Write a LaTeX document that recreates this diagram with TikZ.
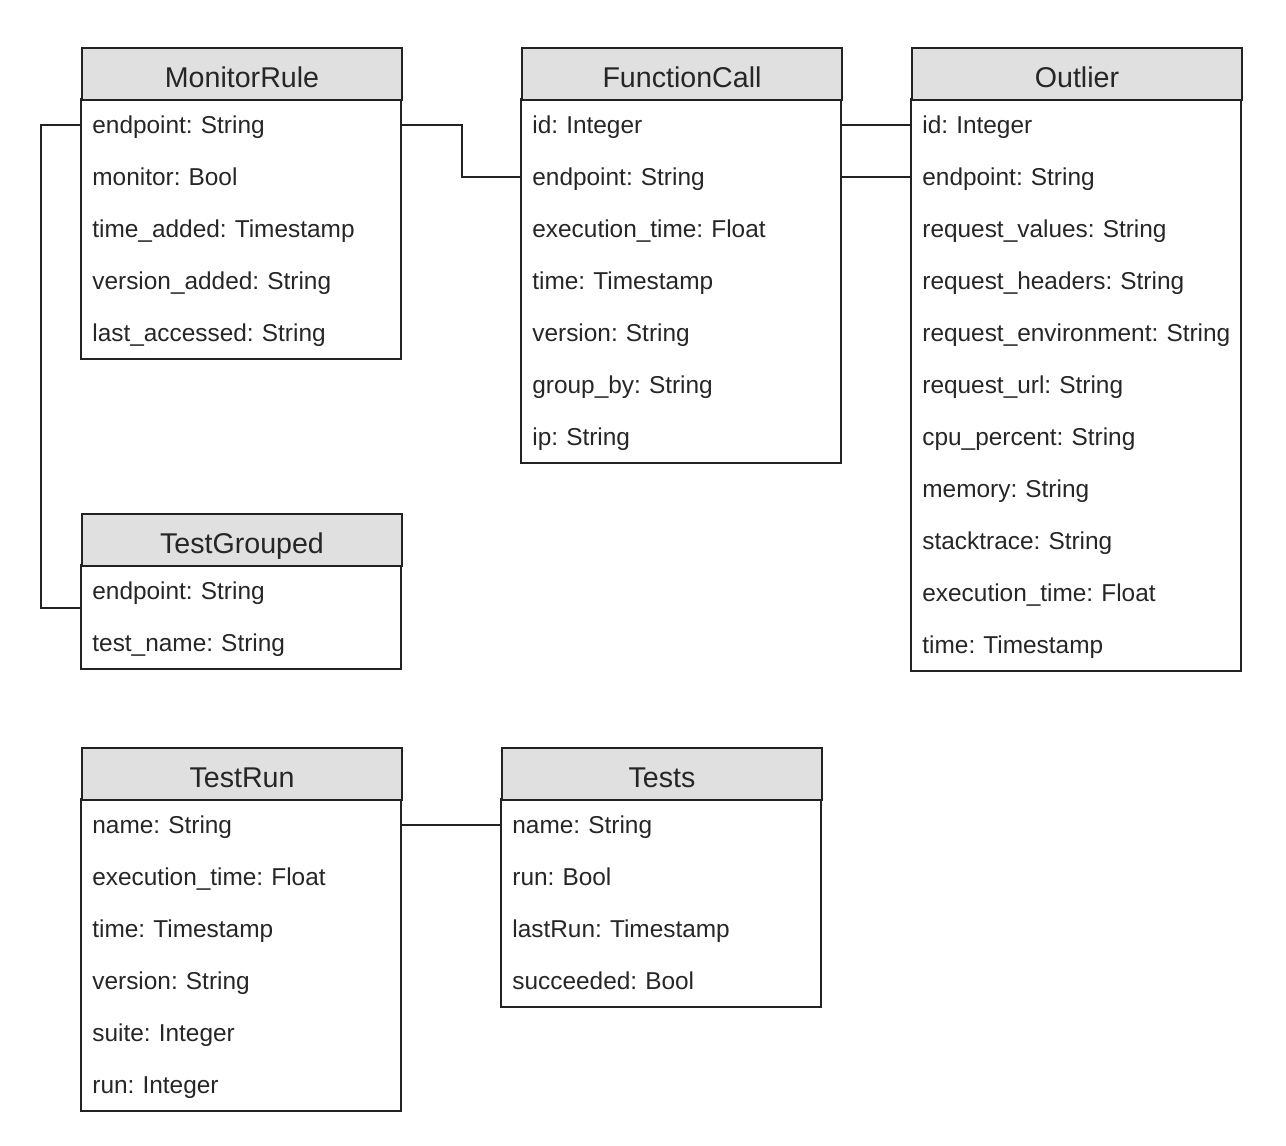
\documentclass[tikz,border=0pt]{standalone}
\usepackage{fontspec}
\setmainfont{Liberation Sans}
\frenchspacing
\definecolor{hdrfill}{HTML}{E0E0E0}
\definecolor{linec}{HTML}{222222}
\definecolor{txtc}{HTML}{262626}
\tikzset{
  hdr/.style={draw=linec, line width=1pt, fill=hdrfill, minimum height=26pt, inner sep=0pt, text height=14pt, text depth=1pt, anchor=north west, font=\fontsize{14.3}{16}\selectfont, text=txtc},
  rowt/.style={draw=none, minimum height=26pt, inner ysep=0pt, inner xsep=5.5pt, text height=11pt, text depth=2.5pt, anchor=north west, align=left, font=\fontsize{12.2}{14}\selectfont, text=txtc},
  bodybox/.style={draw=linec, line width=1pt},
  conn/.style={draw=linec, line width=1pt}
}
% #1 name, #2 x, #3 y, #4 width(px), #5 title, #6 nrows, #7 fields
\newcommand\ertable[7]{%
  \draw[bodybox] (#2,#3+52) rectangle (#2+#4,#3+52+52*#6);
  \node[hdr, minimum width=#4*0.5pt] (#1) at (#2,#3) {#5};
  \foreach \f [count=\i] in {#7} {
    \node[rowt, minimum width=#4*0.5pt, text width=#4*0.5pt-11pt] (#1-\i) at (#2,#3+52*\i) {\f};
  }
}
\begin{document}
\begin{tikzpicture}[x=0.5pt,y=-0.5pt]
\useasboundingbox (0,0) rectangle (1286,1146);
\ertable{MR}{81}{47}{320}{MonitorRule}{5}{endpoint: String, monitor: Bool, time\_added: Timestamp, version\_added: String, last\_accessed: String}
\ertable{FC}{521}{47}{320}{FunctionCall}{7}{id: Integer, endpoint: String, execution\_time: Float, time: Timestamp, version: String, group\_by: String, ip: String}
\ertable{OL}{911}{47}{330}{Outlier}{11}{id: Integer, endpoint: String, request\_values: String, request\_headers: String, request\_environment: String, request\_url: String, cpu\_percent: String, memory: String, stacktrace: String, execution\_time: Float, time: Timestamp}
\ertable{TG}{81}{513}{320}{TestGrouped}{2}{endpoint: String, test\_name: String}
\ertable{TR}{81}{747}{320}{TestRun}{6}{name: String, execution\_time: Float, time: Timestamp, version: String, suite: Integer, run: Integer}
\ertable{TS}{501}{747}{320}{Tests}{4}{name: String, run: Bool, lastRun: Timestamp, succeeded: Bool}
\draw[conn] (MR-1.west) -- ++(-40,0) |- ([yshift=5pt]TG-1.south west);
\draw[conn] (MR-1.east) -- ++(60,0) |- (FC-2.west);
\draw[conn] (FC-1.east) -- (OL-1.west);
\draw[conn] (FC-2.east) -- (OL-2.west);
\draw[conn] (TR-1.east) -- (TS-1.west);
\end{tikzpicture}
\end{document}
